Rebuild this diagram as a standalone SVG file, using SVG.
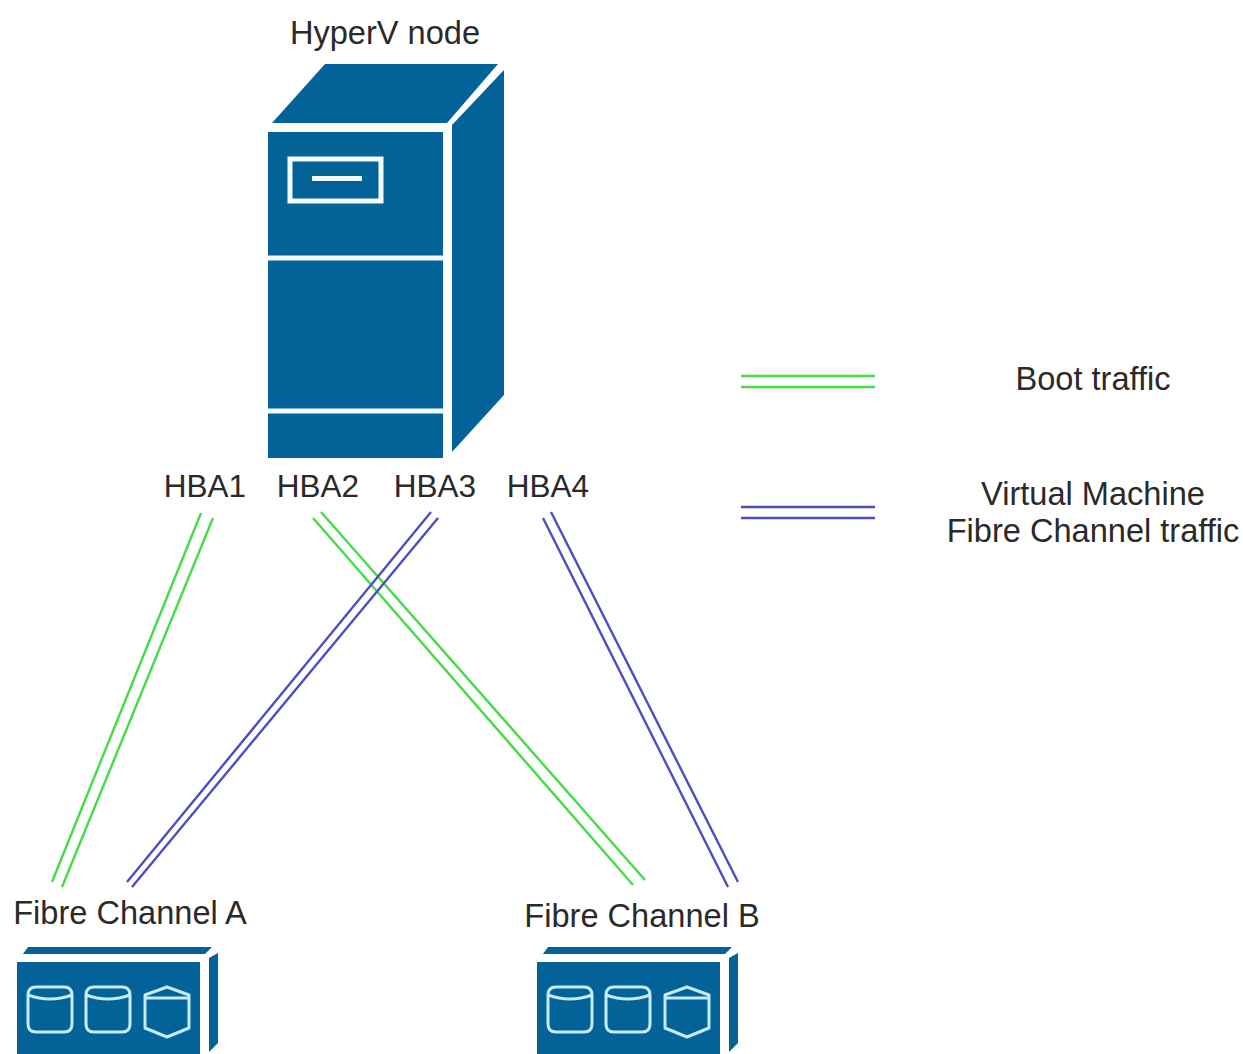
<svg xmlns="http://www.w3.org/2000/svg" width="1243" height="1054" viewBox="0 0 1243 1054">
<style>
.t{font-family:"Liberation Sans",Arial,sans-serif;font-size:32.6px;fill:#2a2a2a;text-anchor:middle}
.h{font-size:31.5px}
.b{fill:#036399}
.w{fill:none;stroke:#f4fbfd;stroke-width:5}
.c{fill:none;stroke:#c4ebf7;stroke-width:3;stroke-linejoin:round}
.g{stroke:#45dc45;stroke-width:2.4;fill:none}
.v{stroke:#4e4ec0;stroke-width:2.4;fill:none}
</style>
<defs>
<g id="storage">
<polygon class="b" points="23,954 28,947 212,947 205,954"/>
<rect class="b" x="17" y="962" width="183" height="92"/>
<polygon class="b" points="209,958 218,953 218,1043 209,1052"/>
<path class="c" d="M36,987H64Q72,987 72,995V1024Q72,1032 64,1032H36Q28,1032 28,1024V995Q28,987 36,987ZM28,995Q50,1003 72,995"/>
<path class="c" d="M94,987H122Q130,987 130,995V1024Q130,1032 122,1032H94Q86,1032 86,1024V995Q86,987 94,987ZM86,995Q108,1003 130,995"/>
<path class="c" d="M167,987L189,995V1028L167,1037L145,1028V995ZM145,998H189"/>
</g>
</defs>
<rect width="1243" height="1054" fill="#fff"/>
<g id="connectors">
<path class="g" d="M201,513L52,882M213,518L62,887"/>
<path class="g" d="M313,518L633,885M321,512L645,880"/>
<path class="v" d="M431,512L127,882M438,518L132,887"/>
<path class="v" d="M543,518L728,887M551,512L738,882"/>
<path class="g" d="M741,376H875M741,387H875"/>
<path class="v" d="M741,507H875M741,518H875"/>
</g>
<g id="hyperv-node">
<polygon class="b" points="272,123 325,64 498,64 447,123"/>
<polygon class="b" points="452,125 504,70 504,395 452,452"/>
<rect class="b" x="268" y="132" width="175" height="326"/>
<path class="w" d="M268,258H443M268,411H443"/>
<rect class="w" x="290" y="159" width="91" height="42"/>
<path class="w" d="M312,178.500H362"/>
<text class="t" x="385" y="44">HyperV node</text>
</g>
<g id="hba-labels">
<text class="t h" x="205" y="497">HBA1</text>
<text class="t h" x="318" y="497">HBA2</text>
<text class="t h" x="435" y="497">HBA3</text>
<text class="t h" x="548" y="497">HBA4</text>
</g>
<g id="fibre-channel-a">
<use href="#storage"/>
<text class="t" x="130" y="924">Fibre Channel A</text>
</g>
<g id="fibre-channel-b">
<use href="#storage" x="520"/>
<text class="t" x="642" y="927">Fibre Channel B</text>
</g>
<g id="legend">
<text class="t" x="1093" y="390">Boot traffic</text>
<text class="t" x="1093" y="505">Virtual Machine</text>
<text class="t" x="1093" y="542">Fibre Channel traffic</text>
</g>
</svg>
